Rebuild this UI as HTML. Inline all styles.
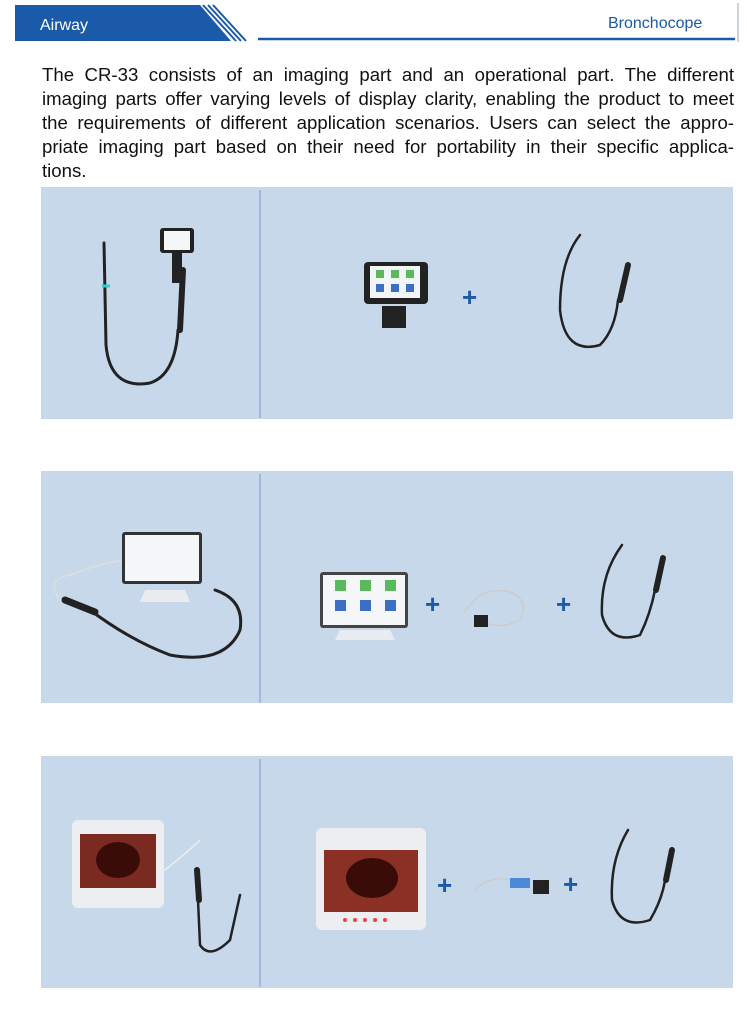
<!DOCTYPE html>
<html><head><meta charset="utf-8"><style>
body{margin:0;width:747px;height:1024px;background:#fff;position:relative;overflow:hidden;font-family:"Liberation Sans","DejaVu Sans",sans-serif}
.p{position:absolute;left:41px;width:692px;height:232px;background:#c8d8eb}
.txt{position:absolute;left:42px;top:63px;width:692px;font-size:18.6px;line-height:24px;color:#111}
.txt div{text-align:justify;text-align-last:justify;white-space:nowrap;height:24px}
.txt div.l{text-align-last:left}
svg{position:absolute;left:0;top:0}
</style></head><body>
<svg width="747" height="60">
<polygon points="15,5 200,5 231,41 15,41" fill="#1a5aa8"/>
<g stroke="#1a5aa8" stroke-width="2"><line x1="203" y1="5" x2="236" y2="41"/><line x1="208" y1="5" x2="241" y2="41"/><line x1="213" y1="5" x2="246" y2="41"/></g>
<text x="40" y="30" fill="#fff" font-size="16" font-family="Liberation Sans">Airway</text>
<text x="608" y="28" fill="#1a5aa8" font-size="16" font-family="Liberation Sans">Bronchocope</text>
<line x1="258" y1="39" x2="735" y2="39" stroke="#1a5aa8" stroke-width="2.5"/>
<line x1="738" y1="3" x2="738" y2="42" stroke="#9ab" stroke-width="1"/>
</svg>
<div class="txt">
<div>The CR-33 consists of an imaging part and an operational part. The different</div>
<div>imaging parts offer varying levels of display clarity, enabling the product to meet</div>
<div>the requirements of different application scenarios. Users can select the appro-</div>
<div>priate imaging part based on their need for portability in their specific applica-</div>
<div class="l">tions.</div>
</div>
<div class="p" style="top:187px"></div>
<div class="p" style="top:471px"></div>
<div class="p" style="top:756px"></div>
<svg width="747" height="1024">
<g stroke="#8fb0d8" stroke-width="1.5"><line x1="260" y1="190" x2="260" y2="418"/><line x1="260" y1="474" x2="260" y2="703"/><line x1="260" y1="759" x2="260" y2="987"/></g>
<g fill="none" stroke="#222" stroke-width="3" stroke-linecap="round">
<path d="M104,243 L106,345 Q110,390 150,383 Q175,375 178,330"/>
<path d="M180,330 L183,270" stroke-width="6"/>
<path d="M580,235 Q560,260 560,310 Q565,355 600,345 Q615,330 618,300" stroke-width="2.5"/>
<path d="M620,300 L628,265" stroke-width="6"/>
<path d="M90,610 Q130,640 170,655 Q225,665 240,630 Q245,600 215,590"/>
<path d="M95,612 L65,600" stroke-width="7"/>
<path d="M60,600 Q45,580 70,575 Q110,560 130,560" stroke="#ddd" stroke-width="1.5"/>
<path d="M622,545 Q600,575 602,615 Q610,645 640,635 Q650,615 655,590" stroke-width="2.5"/>
<path d="M656,590 L663,558" stroke-width="6"/>
<path d="M465,612 Q480,585 510,592 Q530,600 520,620 Q500,630 485,622" stroke="#ccc" stroke-width="1.5"/>
<path d="M198,900 L200,945 Q210,960 230,940 L240,895" stroke-width="2.5"/>
<path d="M197,870 L199,900" stroke-width="6"/>
<path d="M165,870 Q190,850 200,840" stroke="#eee" stroke-width="1.5"/>
<path d="M628,830 Q610,860 612,900 Q620,930 650,920 Q662,900 665,880" stroke-width="2.5"/>
<path d="M666,880 L672,850" stroke-width="6"/>
<path d="M475,890 Q490,875 510,880" stroke="#ccc" stroke-width="1.5"/>
</g>
<line x1="102" y1="286" x2="110" y2="286" stroke="#3cc" stroke-width="3"/>
<rect x="160" y="228" width="34" height="25" rx="3" fill="#222"/><rect x="164" y="231" width="26" height="19" fill="#f4f6f8"/>
<rect x="172" y="253" width="10" height="30" fill="#222"/>
<rect x="364" y="262" width="64" height="42" rx="4" fill="#222"/><rect x="370" y="266" width="50" height="32" fill="#f2f5f8"/>
<rect x="382" y="306" width="24" height="22" fill="#222"/>
<g fill="#5cb85c"><rect x="376" y="270" width="8" height="8"/><rect x="391" y="270" width="8" height="8"/><rect x="406" y="270" width="8" height="8"/></g>
<g fill="#3a6fc4"><rect x="376" y="284" width="8" height="8"/><rect x="391" y="284" width="8" height="8"/><rect x="406" y="284" width="8" height="8"/></g>
<rect x="122" y="532" width="80" height="52" rx="3" fill="#333"/><rect x="125" y="535" width="74" height="46" fill="#f4f6f8"/>
<polygon points="145,590 185,590 190,602 140,602" fill="#e8ecf0"/>
<rect x="320" y="572" width="88" height="56" rx="3" fill="#444"/><rect x="323" y="575" width="82" height="50" fill="#f4f6f8"/>
<g fill="#5cb85c"><rect x="335" y="580" width="11" height="11"/><rect x="360" y="580" width="11" height="11"/><rect x="385" y="580" width="11" height="11"/></g>
<g fill="#3a6fc4"><rect x="335" y="600" width="11" height="11"/><rect x="360" y="600" width="11" height="11"/><rect x="385" y="600" width="11" height="11"/></g>
<polygon points="340,630 390,630 395,640 335,640" fill="#e8ecf0"/>
<rect x="474" y="615" width="14" height="12" fill="#222"/>
<rect x="72" y="820" width="92" height="88" rx="6" fill="#eceef0"/><rect x="80" y="834" width="76" height="54" fill="#7a2a20"/>
<ellipse cx="118" cy="860" rx="22" ry="18" fill="#3a0c08"/>
<rect x="316" y="828" width="110" height="102" rx="6" fill="#eceef0"/><rect x="324" y="850" width="94" height="62" fill="#8a3024"/>
<ellipse cx="372" cy="878" rx="26" ry="20" fill="#3a0c08"/>
<g fill="#e44"><circle cx="345" cy="920" r="2"/><circle cx="355" cy="920" r="2"/><circle cx="365" cy="920" r="2"/><circle cx="375" cy="920" r="2"/><circle cx="385" cy="920" r="2"/></g>
<rect x="533" y="880" width="16" height="14" fill="#222"/><rect x="510" y="878" width="20" height="10" fill="#4a8ad8"/>
<g fill="#1a5aa8" font-size="26" font-weight="bold" font-family="Liberation Sans">
<text x="462" y="306">+</text><text x="425" y="613">+</text><text x="556" y="613">+</text><text x="437" y="894">+</text><text x="563" y="893">+</text></g>
</svg>
</body></html>
